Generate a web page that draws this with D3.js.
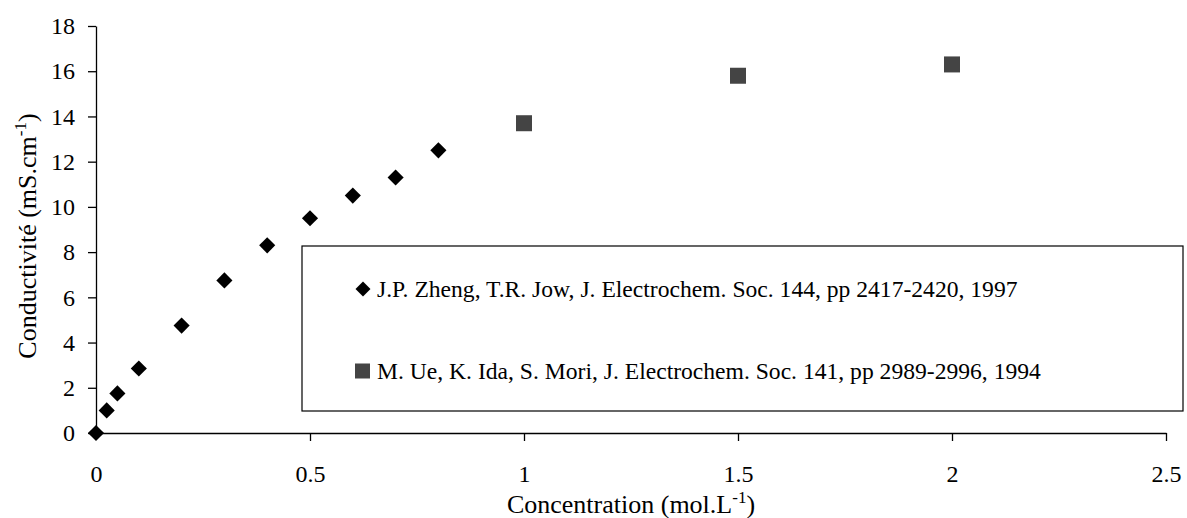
<!DOCTYPE html>
<html>
<head>
<meta charset="utf-8">
<script src="https://cdn.jsdelivr.net/npm/d3@7"></script>
<style>
    html, body { margin: 0; padding: 0; background: #fff; }
    svg text { font-family: "Liberation Serif", "Times New Roman", serif; fill: #000; }
</style>
</head>
<body>
<svg id="chart"></svg>
<script>
'use strict';

/*
    Data
*/

const ZHENG_CONC = [0, 0.025, 0.05, 0.1, 0.2, 0.3, 0.4, 0.5, 0.6, 0.7, 0.8];
const ZHENG_COND = [0, 1.0, 1.75, 2.85, 4.75, 6.75, 8.3, 9.5, 10.5, 11.3, 12.5];

const UE_CONC = [1, 1.5, 2];
const UE_COND = [13.7, 15.8, 16.3];

const X_TICKS = [0, 0.5, 1, 1.5, 2, 2.5];
const Y_TICKS = [0, 2, 4, 6, 8, 10, 12, 14, 16, 18];

const LEGEND_LABELS = [
    'J.P. Zheng, T.R. Jow, J. Electrochem. Soc. 144, pp 2417-2420, 1997',
    'M. Ue, K. Ida, S. Mori, J. Electrochem. Soc. 141, pp 2989-2996, 1994'
];

/*
    Constants
*/

const WIDTH  = 1187;
const HEIGHT = 518;

const MARGINS = Object.freeze({
    TOP    : 26,
    RIGHT  : 21,
    BOTTOM : 85,
    LEFT   : 96
});

const PLOT_W = WIDTH  - MARGINS.LEFT - MARGINS.RIGHT;
const PLOT_H = HEIGHT - MARGINS.TOP  - MARGINS.BOTTOM;

const FONT = '"Liberation Serif", "Times New Roman", serif';

const SVG = d3.select('#chart')
    .attr('width', WIDTH)
    .attr('height', HEIGHT);

const x = d3.scaleLinear().domain([0, 2.5]).range([0, PLOT_W]);
const y = d3.scaleLinear().domain([0, 18]).range([PLOT_H, 0]);

const g = SVG.append('g')
    .attr('transform', `translate(${MARGINS.LEFT},${MARGINS.TOP})`);

/*
    Axes
*/

const fmt = d => String(d);

const yAxis = g.append('g')
    .call(d3.axisLeft(y).tickValues(Y_TICKS).tickFormat(fmt)
        .tickSize(8).tickSizeOuter(0).tickPadding(13));

const xAxis = g.append('g')
    .attr('transform', `translate(0,${PLOT_H})`)
    .call(d3.axisBottom(x).tickValues(X_TICKS).tickFormat(fmt)
        .tickSize(8).tickSizeOuter(0).tickPadding(24));

[xAxis, yAxis].forEach(a => {
    a.attr('font-family', FONT);
    a.select('.domain').attr('stroke', '#000').attr('stroke-width', 1.3);
    a.selectAll('.tick line').attr('stroke', '#000').attr('stroke-width', 1.3);
    a.selectAll('.tick text')
        .style('font-family', FONT)
        .style('font-size', '24px')
        .attr('fill', '#000');
});

// no tick drawn under the origin on the x axis
xAxis.selectAll('.tick').filter(d => d === 0).select('line').remove();

/*
    Axis titles
*/

const yTitle = SVG.append('text')
    .attr('transform', 'translate(36,236) rotate(-90)')
    .attr('text-anchor', 'middle')
    .style('font-size', '26px');
yTitle.append('tspan').text('Conductivité (mS.cm');
yTitle.append('tspan').attr('dy', -10).style('font-size', '17px').text('-1');
yTitle.append('tspan').attr('dy', 10).text(')');

const xTitle = SVG.append('text')
    .attr('x', MARGINS.LEFT + PLOT_W / 2)
    .attr('y', 513)
    .attr('text-anchor', 'middle')
    .style('font-size', '26px');
xTitle.append('tspan').text('Concentration (mol.L');
xTitle.append('tspan').attr('dy', -10).style('font-size', '17px').text('-1');
xTitle.append('tspan').attr('dy', 10).text(')');

/*
    Legend box (drawn under the points)
*/

const LEGEND = Object.freeze({ X: 302, Y: 246, W: 881, H: 165 });

SVG.append('rect')
    .attr('x', LEGEND.X)
    .attr('y', LEGEND.Y)
    .attr('width', LEGEND.W)
    .attr('height', LEGEND.H)
    .attr('fill', '#fff')
    .attr('stroke', '#000')
    .attr('stroke-width', 1.2);

/*
    Points
*/

const diamond = d3.symbol().type(d3.symbolSquare).size(130);

g.append('g').selectAll('path')
    .data(ZHENG_CONC.map((c, i) => [c, ZHENG_COND[i]]))
    .join('path')
    .attr('d', diamond)
    .attr('transform', d => `translate(${x(d[0])},${y(d[1])}) rotate(45)`)
    .attr('fill', '#000');

const SQ = 16;
g.append('g').selectAll('rect')
    .data(UE_CONC.map((c, i) => [c, UE_COND[i]]))
    .join('rect')
    .attr('x', d => x(d[0]) - SQ / 2)
    .attr('y', d => y(d[1]) - SQ / 2)
    .attr('width', SQ)
    .attr('height', SQ)
    .attr('fill', '#444');

/*
    Legend entries
*/

const markY = [289, 371];
const textY = [297, 379];

const leg = SVG.append('g');

leg.append('path')
    .attr('d', d3.symbol().type(d3.symbolSquare).size(112))
    .attr('transform', `translate(363,${markY[0]}) rotate(45)`)
    .attr('fill', '#000');

leg.append('rect')
    .attr('x', 355)
    .attr('y', markY[1] - 7.5)
    .attr('width', 15)
    .attr('height', 15)
    .attr('fill', '#444');

leg.selectAll('text')
    .data(LEGEND_LABELS)
    .join('text')
    .attr('x', 377)
    .attr('y', (d, i) => textY[i])
    .style('font-size', '23.6px')
    .text(d => d);
</script>
</body>
</html>
